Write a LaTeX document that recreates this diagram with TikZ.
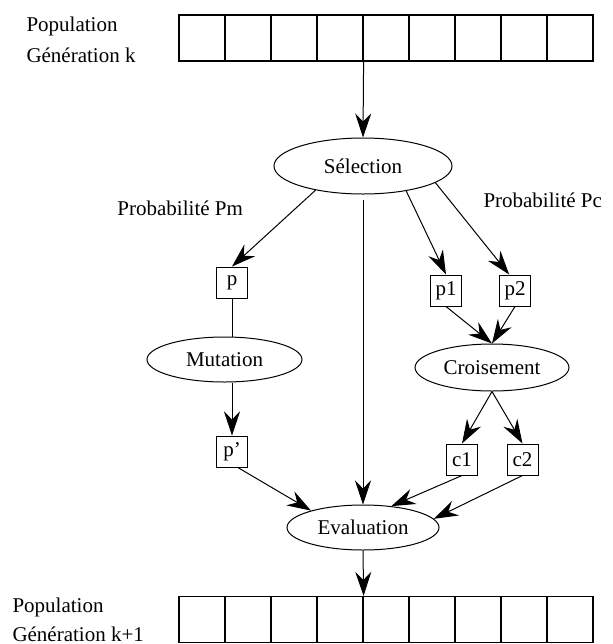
\documentclass[tikz,border=0pt]{standalone}
\usepackage{fontspec}
\setmainfont{Liberation Serif}
\usetikzlibrary{arrows.meta,shapes.geometric}

\begin{document}
\begin{tikzpicture}
      [x=0.5pt, y=-0.5pt, line width=0.5pt,
       font=\fontsize{10.5}{13}\selectfont,
       >={Stealth[length=12pt, width=8pt, inset=4pt]},
       lbl/.style={anchor=base west, inner sep=0pt},
       cell/.style={draw, line width=0.6pt, minimum width=23pt, minimum height=23pt, inner sep=0pt},
       op/.style={draw, ellipse, inner sep=0pt},
       ind/.style={draw, minimum width=15.5pt, minimum height=15.5pt, inner sep=0pt}]
      \useasboundingbox (0, 0) rectangle (613, 644);

      \node[lbl](lt1) at (26, 31) {Population};
      \node[lbl](lt2) at (26, 62) {Génération k};
      \foreach \i in {0,...,8}
        \node[cell](t\i) at ({202+46*\i}, 38) {};

      \node[lbl](lb1) at (12, 612) {Population};
      \node[lbl](lb2) at (12, 641) {Génération k+1};
      \foreach \i in {0,...,8}
        \node[cell](b\i) at ({202+46*\i}, 619.5) {};

      \node[op, minimum width=89pt, minimum height=28pt](sel) at (363, 166) {Sélection};
      \node[op, minimum width=77.5pt, minimum height=22.5pt](mut) at (224.5, 359.5) {Mutation};
      \node[op, minimum width=77pt, minimum height=23.5pt](cro) at (492, 367.5) {Croisement};
      \node[op, minimum width=76pt, minimum height=22.5pt](eva) at (363, 527.5) {Evaluation};

      \node[lbl](pm) at (117, 215) {Probabilité Pm};
      \node[lbl](pc) at (483, 207) {Probabilité Pc};

      \node[ind](p) at (232, 282.5) {p};
      \node[ind](p1) at (446, 290.5) {p1};
      \node[ind](p2) at (515, 290.5) {p2};
      \node[ind](pp) at (232, 451.5) {p'};
      \node[ind](c1) at (462, 459.5) {c1};
      \node[ind](c2) at (522.5, 459.5) {c2};

      \draw[->](t3.south east) -- (sel.north);
      \draw[->](sel.207) -- (p.north);
      \draw[->](sel.330) -- (p1.north);
      \draw[->](sel.347) -- (p2.110);
      \draw[->, shorten <=2.5pt](sel.south) -- (eva.north);
      \draw(p.south) -- (p |- mut.north);
      \draw[->](mut.south -| pp) -- (pp.north);
      \draw[->](p1.south) -- (cro.north);
      \draw[->](p2.south) -- (cro.north);
      \draw[->](cro.south) -- (c1.north);
      \draw[->](cro.south) -- (c2.north);
      \draw[->](pp.290) -- (eva.162);
      \draw[->](c1.south) -- (eva.37);
      \draw[->](c2.south) -- (eva.7);
      \draw[->](eva.south) -- (b3.north east);
  \end{tikzpicture}
\end{document}
